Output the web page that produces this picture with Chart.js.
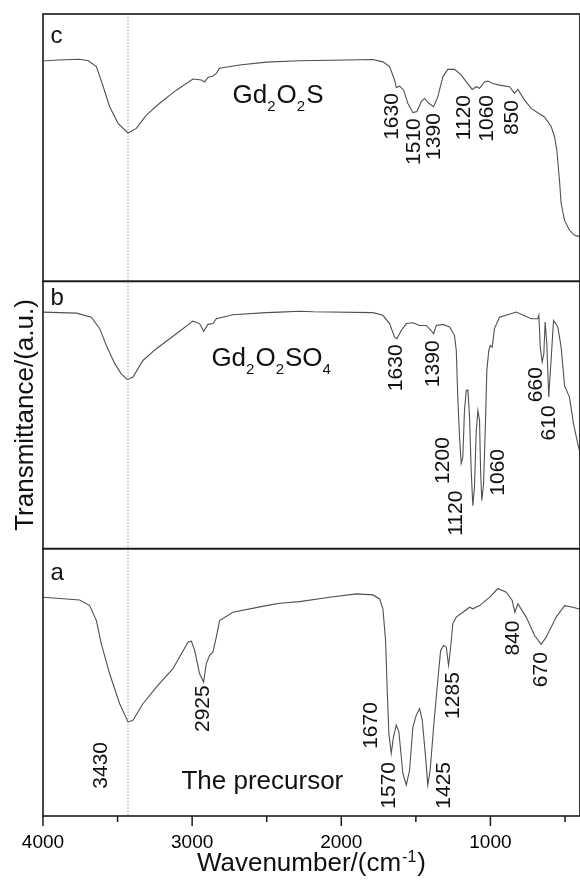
<!DOCTYPE html>
<html><head><meta charset="utf-8">
<style>html,body{margin:0;padding:0;background:#fff;}#wrap{width:580px;height:882px;}</style>
<script src="https://cdn.jsdelivr.net/npm/chart.js@4.4.1/dist/chart.umd.min.js"></script>
</head><body><div id="wrap"><canvas id="cv" width="580" height="882"></canvas></div>
<script>
// ---- data (wavenumber cm-1, transmittance a.u. per panel 0..100) ----
const wnC = [4000,3900,3753,3696,3642,3596,3553,3497,3430,3374,3307,3218,3106,2995,2938,2916,2894,2860,2838,2816,2682,2503,2280,1967,1788,1721,1676,1643,1631,1609,1582,1554,1520,1493,1464,1442,1413,1381,1353,1319,1286,1241,1196,1162,1122,1095,1073,1040,1017,984,939,872,839,816,771,727,660,637,592,570,555,537,526,503,470,436,414,400];
const tC  = [82.4,82.8,83.1,82.5,80.3,72.8,65.3,59.1,55.5,57.2,62.2,66.6,71.5,75.7,75.3,74.6,76.3,76.8,77.8,79.7,80.9,82.0,82.5,82.8,83.0,82.1,80.3,75.3,72.5,73.0,71.5,66.6,63.1,63.5,67.2,68.4,66.6,65.3,69.0,76.5,79.3,79.3,77.2,74.6,71.8,72.8,72.2,74.6,74.9,74.0,73.4,72.8,70.3,71.8,67.8,64.7,62.2,61.5,57.8,54.0,49.1,37.8,29.1,22.8,19.1,17.2,16.9,16.9];

const wnB = [4000,3776,3676,3620,3575,3519,3475,3434,3397,3330,3240,3106,2995,2950,2923,2894,2860,2838,2727,2503,2414,2280,2190,1788,1721,1676,1643,1627,1598,1564,1520,1475,1430,1397,1381,1363,1319,1274,1241,1229,1219,1207,1196,1185,1174,1162,1151,1140,1129,1118,1107,1095,1084,1073,1066,1058,1046,1033,1024,1011,1001,988,973,939,827,727,682,675,666,653,642,633,622,609,592,577,548,526,503,470,443,414,400];
const tB  = [88.5,88.1,86.6,82.3,76.0,69.2,65.4,63.2,64.2,70.4,74.8,80.4,85.1,84.2,81.3,83.9,84.2,86.0,87.5,88.3,88.5,88.8,88.6,88.3,87.3,84.2,79.1,78.5,81.6,84.2,84.5,83.5,83.5,81.6,80.4,83.5,83.9,82.9,79.8,74.2,56.7,41.7,31.9,34.2,51.7,59.2,59.4,49.2,29.2,16.1,23.0,44.2,51.7,47.9,29.2,18.0,24.2,47.9,66.7,74.2,76.0,75.4,82.3,86.6,88.5,86.0,86.0,87.3,75.4,69.8,72.9,84.8,76.7,56.7,71.6,85.4,82.9,75.4,61.0,56.7,46.7,39.2,36.0];

const wnA = [4000,3754,3687,3642,3609,3553,3486,3430,3397,3330,3240,3129,3028,3005,2983,2950,2923,2905,2883,2861,2838,2816,2727,2503,2414,2280,2078,1900,1788,1743,1721,1703,1692,1681,1665,1650,1631,1614,1587,1564,1542,1520,1497,1475,1457,1435,1420,1404,1381,1353,1334,1314,1296,1281,1269,1252,1229,1185,1140,1118,1073,1006,950,894,854,836,816,760,704,660,626,559,503,448,410,400];
const tA  = [81.8,80.8,78.7,73.1,64.4,53.2,42.0,35.2,35.8,42.0,48.2,55.1,65.0,65.4,61.9,53.2,50.1,57.0,60.1,61.3,66.9,73.1,76.2,78.7,79.6,80.2,81.8,83.1,82.7,81.2,77.5,65.7,47.0,30.9,23.4,29.6,34.0,31.5,15.9,11.6,17.2,33.3,37.7,40.2,35.8,22.1,11.6,17.2,33.3,50.7,61.9,63.8,63.2,56.3,61.9,71.9,74.4,76.2,78.1,77.5,78.7,81.8,85.1,83.7,80.6,76.2,79.4,74.4,67.5,64.2,66.9,74.4,78.7,78.1,77.5,77.3];

const xTicks = [4000,3500,3000,2500,2000,1500,1000,500];
const refLine = 3430;

// peak labels: [text, wavenumber of label, panel value at label top]
const peaksC = [["1630",1656,70.4],["1510",1509,61.0],["1390",1375,62.9],["1120",1174,69.7],["1060",1020,69.7],["850",852,67.8]];
const peaksB = [["1630",1631,76.4],["1390",1385,77.9],["1200",1319,41.7],["1120",1229,21.7],["1060",950,37.3],["660",693,67.9],["610",604,53.6]];
const peaksA = [["3430",3609,27.7],["2925",2928,48.9],["1670",1799,42.6],["1570",1676,20.2],["1425",1308,20.2],["1285",1252,53.8],["840",850,73.1],["670",660,61.3]];

const sampleC = [["Gd",0],["2",1],["O",0],["2",1],["S",0]];
const sampleB = [["Gd",0],["2",1],["O",0],["2",1],["SO",0],["4",1]];
const sampleA = [["The precursor",0]];
const panelLetters = ["a","b","c"];
const xTitle = "Wavenumber/(cm";
const xTitleSup = "-1";
const yTitle = "Transmittance/(a.u.)";

const FF = "'Liberation Sans', Arial, sans-serif";
const pts = (w,t) => w.map((v,i)=>({x:v,y:t[i]}));

const deco = {
  id:'deco',
  beforeDatasetsDraw(chart){
    const {ctx, chartArea:ca, scales} = chart;
    const x = scales.x.getPixelForValue(refLine);
    ctx.save();
    ctx.strokeStyle = '#8a8a8a'; ctx.lineWidth = 1; ctx.setLineDash([1.2,2]);
    ctx.beginPath(); ctx.moveTo(x, ca.top); ctx.lineTo(x, ca.bottom); ctx.stroke();
    ctx.restore();
  },
  afterDatasetsDraw(chart){
    const {ctx, chartArea:ca, scales} = chart;
    const xs = scales.x;
    ctx.save();
    ctx.strokeStyle = '#1a1a1a'; ctx.lineWidth = 1.6;
    ['yA','yB','yC'].forEach(id=>{
      const s = scales[id];
      ctx.strokeRect(ca.left, s.top, ca.right-ca.left, s.bottom-s.top);
    });
    ctx.lineWidth = 1.5;
    xTicks.forEach(v=>{
      const px = xs.getPixelForValue(v);
      const len = v%1000===0 ? 10 : 6;
      ctx.beginPath(); ctx.moveTo(px, ca.bottom); ctx.lineTo(px, ca.bottom+len); ctx.stroke();
    });
    ctx.fillStyle = '#111';
    ctx.font = '21px ' + FF;
    const drawPeaks = (arr,id)=>{
      const s = scales[id];
      arr.forEach(([t,w,v])=>{
        ctx.save();
        ctx.translate(xs.getPixelForValue(w), s.getPixelForValue(v));
        ctx.rotate(-Math.PI/2);
        ctx.textAlign='right'; ctx.textBaseline='middle';
        ctx.fillText(t,0,0);
        ctx.restore();
      });
    };
    drawPeaks(peaksC,'yC'); drawPeaks(peaksB,'yB'); drawPeaks(peaksA,'yA');
    const drawSample = (parts,id,w,v)=>{
      const s = scales[id];
      let px = xs.getPixelForValue(w); const py = s.getPixelForValue(v);
      ctx.textAlign='left'; ctx.textBaseline='alphabetic';
      parts.forEach(([t,sub])=>{
        ctx.font = (sub ? '15px ' : '26px ') + FF;
        ctx.fillText(t, px, py + (sub ? 8 : 0));
        px += ctx.measureText(t).width + (sub ? 1 : 0);
      });
    };
    drawSample(sampleC,'yC',2729,66.7);
    drawSample(sampleB,'yB',2871,68.5);
    drawSample(sampleA,'yA',3072,10.0);
    ctx.font = '24px ' + FF; ctx.textAlign='left'; ctx.textBaseline='alphabetic';
    const letterVals = [88.1,91.0,89.1];
    ['yA','yB','yC'].forEach((id,i)=>{
      ctx.fillText(panelLetters[i], xs.getPixelForValue(3950), scales[id].getPixelForValue(letterVals[i]));
    });
    ctx.font = '26px ' + FF;
    const w1 = ctx.measureText(xTitle).width;
    ctx.font = '16px ' + FF;
    const w2 = ctx.measureText(xTitleSup).width;
    ctx.font = '26px ' + FF;
    const w3 = ctx.measureText(')').width;
    let tx = (ca.left+ca.right)/2 - (w1+w2+w3+2)/2;
    const ty = 871;
    ctx.fillText(xTitle, tx, ty); tx += w1 + 1;
    ctx.font = '16px ' + FF; ctx.fillText(xTitleSup, tx, ty-9); tx += w2 + 1;
    ctx.font = '26px ' + FF; ctx.fillText(')', tx, ty);
    ctx.save();
    ctx.translate(33, (ca.top+ca.bottom)/2);
    ctx.rotate(-Math.PI/2);
    ctx.textAlign='center'; ctx.textBaseline='alphabetic';
    ctx.font = '26px ' + FF;
    ctx.fillText(yTitle,0,0);
    ctx.restore();
    ctx.restore();
  }
};

const yOpt = () => ({type:'linear', min:0, max:100, stack:'panels', stackWeight:1, position:'left',
  ticks:{display:false}, grid:{display:false, drawTicks:false}, border:{display:false}});

new Chart(document.getElementById('cv'), {
  type:'line',
  data:{ datasets:[
    {data:pts(wnA,tA), yAxisID:'yA', borderColor:'#505050', borderWidth:1.1, pointRadius:0, fill:false, tension:0},
    {data:pts(wnB,tB), yAxisID:'yB', borderColor:'#505050', borderWidth:1.1, pointRadius:0, fill:false, tension:0},
    {data:pts(wnC,tC), yAxisID:'yC', borderColor:'#505050', borderWidth:1.1, pointRadius:0, fill:false, tension:0}
  ]},
  options:{
    responsive:false, animation:false, devicePixelRatio:1,
    layout:{padding:{left:43, top:14, right:0, bottom:0}},
    plugins:{legend:{display:false}, tooltip:{enabled:false}},
    scales:{
      yA:yOpt(), yB:yOpt(), yC:yOpt(),
      x:{type:'linear', position:'bottom', min:400, max:4000, reverse:true,
        afterBuildTicks: s => { s.ticks = xTicks.map(v=>({value:v})); },
        afterFit: s => { s.height = 66; },
        ticks:{autoSkip:false, maxRotation:0, color:'#000', padding:15, font:{family:FF, size:19},
          callback: v => (v%1000===0 ? String(v) : '')},
        grid:{display:false, drawTicks:false}, border:{display:false}}
    }
  },
  plugins:[deco]
});
</script></body></html>
